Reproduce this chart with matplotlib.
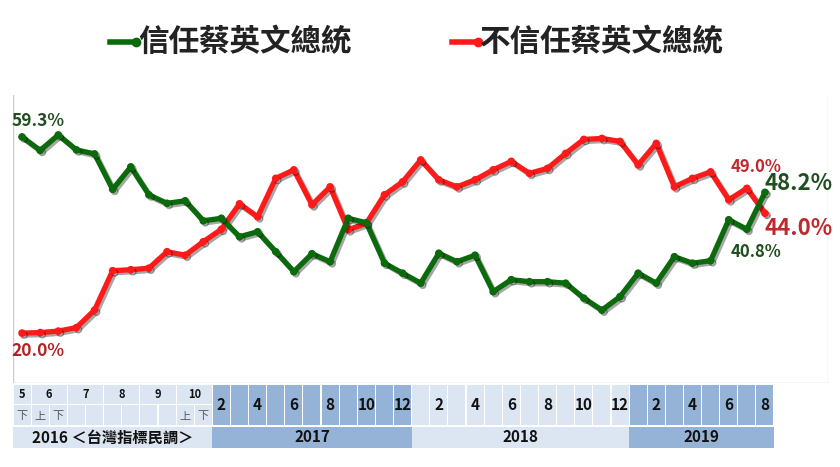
import matplotlib
matplotlib.use("Agg")
import matplotlib.pyplot as plt
from matplotlib.patches import Rectangle
from matplotlib.lines import Line2D
import matplotlib.patheffects as pe

plt.rcParams['font.family'] = ['Noto Sans CJK TC', 'DejaVu Sans']

trust = [59.3, 56.6, 59.7, 56.7, 55.9, 48.8, 53.3, 47.7, 46.0, 46.5, 42.5, 43.0, 39.3, 40.3,
         36.3, 32.3, 35.9, 34.3, 43.0, 42.1, 34.0, 32.0, 30.0, 36.0, 34.3, 35.6, 28.3, 30.7,
         30.3, 30.3, 30.0, 27.0, 24.6, 27.3, 32.0, 30.0, 35.3, 34.0, 34.5, 42.7, 40.8, 48.2]
distrust = [20.0, 20.1, 20.4, 21.1, 24.6, 32.5, 32.7, 33.0, 36.3, 35.6, 38.3, 40.8, 45.9, 43.3,
            51.0, 52.7, 45.7, 49.3, 40.7, 42.0, 47.7, 50.3, 54.7, 50.7, 49.3, 50.7, 52.7, 54.4,
            52.0, 53.0, 56.0, 58.8, 59.0, 58.4, 53.7, 58.0, 49.3, 51.0, 52.3, 46.7, 49.0, 44.0]
legend_labels = ["信任蔡英文總統", "不信任蔡英文總統"]
# 2016 survey columns
m2016_groups = [("5", 0, 0), ("6", 1, 2), ("7", 3, 4), ("8", 5, 6), ("9", 7, 8), ("10", 9, 10)]
half2016 = ["下", "上", "下", "", "", "", "", "", "", "上", "下"]
months2017 = list(range(2, 13))
months2018 = list(range(1, 13))
months2019 = list(range(1, 9))
years = ["2016 ＜台灣指標民調＞", "2017", "2018", "2019"]

GREEN = "#0b6a0b"
RED = "#ff1a1a"
LIGHT = "#dce6f2"
DARK = "#95b3d7"

W, H = 840, 467
fig = plt.figure(figsize=(8.4, 4.67), dpi=100)
step = 18.12
x0 = 13
xmax = (828 - x0) / step - 0.5

def fx(px): return px / W
def fy(py): return 1 - py / H

ax = fig.add_axes([fx(x0), fy(383), (828 - x0) / W, (383 - 95) / H])
ax.set_xlim(-0.5, xmax)
ax.set_ylim(10.0, 67.7)
ax.axis('off')
ax.add_line(Line2D([-0.5, -0.5], [10.0, 67.7], color="#cccccc", lw=1))
ax.add_line(Line2D([-0.5, xmax], [10.0, 10.0], color="#cccccc", lw=1))
ax.add_line(Line2D([xmax, xmax], [10.0, 67.7], color="#dddddd", lw=1))

xs = list(range(len(trust)))
shadow = [pe.SimpleLineShadow(offset=(1.5, -1.5), alpha=0.35), pe.Normal()]
ax.plot(xs, distrust, color=RED, lw=3.8, marker='o', ms=4.5, path_effects=shadow, zorder=3)
ax.plot(xs, trust, color=GREEN, lw=3.8, marker='o', ms=4.5, path_effects=shadow, zorder=4)

bold = dict(fontweight='bold')
ax.text(-0.6, 60.6, "59.3%", color="#1f4f1f", fontsize=12.5, ha='left', va='bottom', **bold)
ax.text(-0.6, 18.3, "20.0%", color="#b22222", fontsize=12.5, ha='left', va='top', **bold)
ax.text(39.1, 53.3, "49.0%", color="#c0282d", fontsize=12, ha='left', va='center', **bold)
ax.text(41.0, 50.0, "48.2%", color="#1f4f1f", fontsize=16, ha='left', va='center', **bold)
ax.text(41.0, 41.0, "44.0%", color="#c0282d", fontsize=16, ha='left', va='center', **bold)
ax.text(39.1, 36.3, "40.8%", color="#1f4f1f", fontsize=12, ha='left', va='center', **bold)

# legend
for (lx, col, lab) in [(110, GREEN, legend_labels[0]), (452, RED, legend_labels[1])]:
    fig.add_artist(Line2D([fx(lx), fx(lx + 26)], [fy(42), fy(42)], color=col, lw=4,
                          marker='o', ms=6, markevery=[1]))
    fig.text(fx(lx + 28), fy(42), lab, color="#222222", fontsize=22, va='center', ha='left', **bold)

# table
tx = fig.add_axes([fx(x0), fy(448), (828 - x0) / W, (448 - 385) / H])
tx.set_xlim(-0.5, xmax)
tx.set_ylim(0, 3)
tx.axis('off')
g = 0.03

def cell(a, b, y0, y1, color, text=None, fs=9.5):
    tx.add_patch(Rectangle((a - 0.5 + g, y0), b - a + 1 - 2 * g, y1 - y0, color=color, lw=0))
    if text:
        tx.text((a + b) / 2, (y0 + y1) / 2, text, ha='center', va='center', fontsize=fs,
                color="#111111", **bold)

for lab, a, b in m2016_groups:
    cell(a, b, 2.1, 3.0, LIGHT, lab, fs=8)
for i, h in enumerate(half2016):
    cell(i, i, 1.1, 2.04, LIGHT)
    if h:
        tx.text(i, 1.5, h, ha='center', va='center', fontsize=8, color="#555555")
start = 11
for k, m in enumerate(months2017):
    cell(start + k, start + k, 1.1, 3.0, DARK, str(m) if m % 2 == 0 else None, fs=11)
start += len(months2017)
for k, m in enumerate(months2018):
    cell(start + k, start + k, 1.1, 3.0, LIGHT, str(m) if m % 2 == 0 else None, fs=11)
start += len(months2018)
for k, m in enumerate(months2019):
    cell(start + k, start + k, 1.1, 3.0, DARK, str(m) if m % 2 == 0 else None, fs=11)

spans = [(0, 10, LIGHT), (11, 21, DARK), (22, 33, LIGHT), (34, 41, DARK)]
for (a, b, c), ylab in zip(spans, years):
    tx.add_patch(Rectangle((a - 0.5, 0), b - a + 1, 1.0, color=c, lw=0))
    tx.text((a + b) / 2, 0.5, ylab, ha='center', va='center', fontsize=11, color="#111111", **bold)

fig.savefig("out.png", dpi=100, facecolor="white")
